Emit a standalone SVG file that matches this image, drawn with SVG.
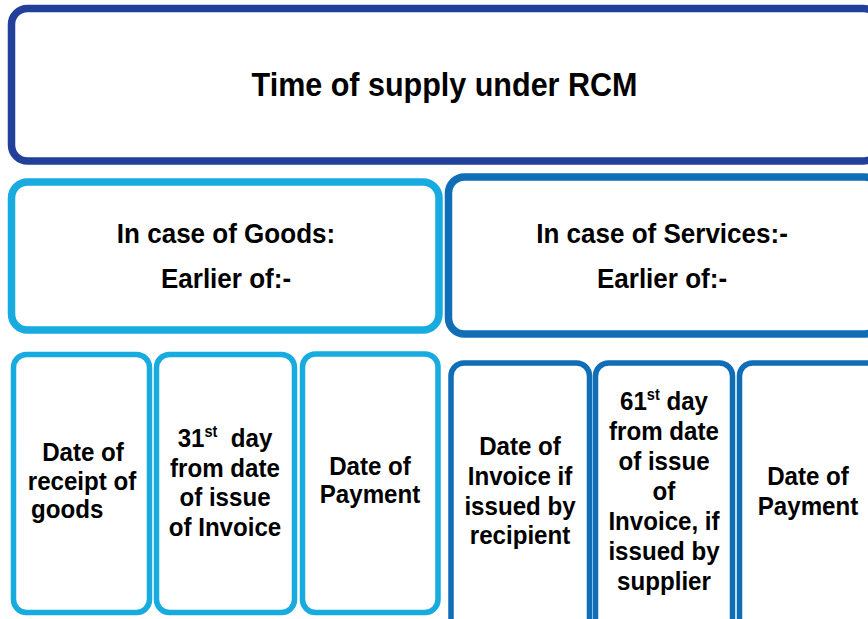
<svg xmlns="http://www.w3.org/2000/svg" width="868" height="619" viewBox="0 0 868 619">
<style>
.bx{fill:#fff}
.navy{stroke:#22409A;stroke-width:7.5}
.lb{stroke:#17ABE0;stroke-width:7.5}
.mb{stroke:#0F6EB6;stroke-width:7.5}
.lbs{stroke:#17ABE0;stroke-width:5.5}
.mbs{stroke:#0F6EB6;stroke-width:5.5}
text{font-family:"Liberation Sans",Arial,sans-serif;font-weight:bold;fill:#000;text-anchor:middle}
.t{font-size:33px}
.h{font-size:28px}
.b{font-size:26.5px}
.sup{font-size:16px}
</style>
<rect width="868" height="619" fill="#fff"/>
<g id="title">
<rect class="bx navy" x="11.5" y="8.5" width="868" height="152.5" rx="16"/>
<text class="t" transform="translate(444.5,96) scale(0.925,1)">Time of supply under RCM</text>
</g>
<g id="goods">
<rect class="bx lb" x="11.5" y="182" width="427.5" height="148" rx="16"/>
<text class="h" transform="translate(226,243) scale(0.93,1)">In case of Goods:</text>
<text class="h" transform="translate(226,288) scale(0.93,1)">Earlier of:-</text>
</g>
<g id="services">
<rect class="bx mb" x="448.5" y="177" width="432" height="157" rx="16"/>
<text class="h" transform="translate(662,243) scale(0.93,1)">In case of Services:-</text>
<text class="h" transform="translate(662,288) scale(0.93,1)">Earlier of:-</text>
</g>
<g id="g1">
<rect class="bx lbs" x="13.5" y="354.5" width="136" height="258" rx="13"/>
<text class="b" transform="translate(83,461) scale(0.91,1)">Date of</text>
<text class="b" transform="translate(82,490) scale(0.91,1)">receipt of</text>
<text class="b" transform="translate(31,518) scale(0.91,1)" style="text-anchor:start">goods</text>
</g>
<g id="g2">
<rect class="bx lbs" x="156.5" y="354.5" width="138" height="258" rx="13"/>
<text class="b" transform="translate(225,447) scale(0.91,1)">31<tspan class="sup" dy="-10">st</tspan><tspan dy="10">&#160; day</tspan></text>
<text class="b" transform="translate(225,477) scale(0.91,1)">from date</text>
<text class="b" transform="translate(225,506) scale(0.91,1)">of issue</text>
<text class="b" transform="translate(225,536) scale(0.91,1)">of Invoice</text>
</g>
<g id="g3">
<rect class="bx lbs" x="302.5" y="354" width="135.5" height="258.5" rx="13"/>
<text class="b" transform="translate(370,475) scale(0.91,1)">Date of</text>
<text class="b" transform="translate(370,503) scale(0.91,1)">Payment</text>
</g>
<g id="s1">
<rect class="bx mbs" x="451" y="363" width="138.5" height="280" rx="13"/>
<text class="b" transform="translate(520,455) scale(0.91,1)">Date of</text>
<text class="b" transform="translate(520,485) scale(0.91,1)">Invoice if</text>
<text class="b" transform="translate(520,515) scale(0.91,1)">issued by</text>
<text class="b" transform="translate(520,544) scale(0.91,1)">recipient</text>
</g>
<g id="s2">
<rect class="bx mbs" x="595.5" y="363" width="137" height="280" rx="13"/>
<text class="b" transform="translate(664,410) scale(0.91,1)">61<tspan class="sup" dy="-10">st</tspan><tspan dy="10"> day</tspan></text>
<text class="b" transform="translate(664,440) scale(0.91,1)">from date</text>
<text class="b" transform="translate(664,470) scale(0.91,1)">of issue</text>
<text class="b" transform="translate(664,500) scale(0.91,1)">of</text>
<text class="b" transform="translate(664,530) scale(0.91,1)">Invoice, if</text>
<text class="b" transform="translate(664,560) scale(0.91,1)">issued by</text>
<text class="b" transform="translate(664,590) scale(0.91,1)">supplier</text>
</g>
<g id="s3">
<rect class="bx mbs" x="739.5" y="363" width="140" height="280" rx="13"/>
<text class="b" transform="translate(808,485) scale(0.91,1)">Date of</text>
<text class="b" transform="translate(808,515) scale(0.91,1)">Payment</text>
</g>
<g id="connectors"/>
</svg>
